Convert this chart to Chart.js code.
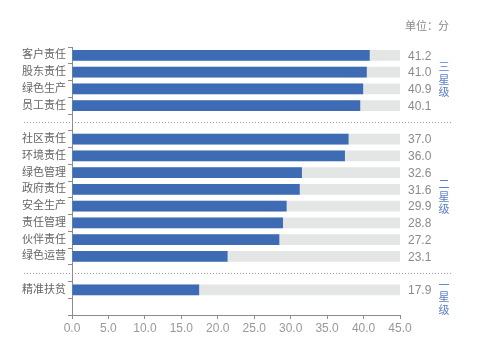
<!DOCTYPE html>
<html>
<head>
<meta charset="utf-8">
<script src="https://cdn.jsdelivr.net/npm/chart.js@4"></script>
<style>
  html, body { margin: 0; padding: 0; background: #fff; }
  #wrap { width: 503px; height: 346px; position: relative; }
</style>
</head>
<body>
<div id="wrap"><canvas id="rating-chart"></canvas></div>
<script>
// chart data (blank entries are the gaps between star groups)
const categories = ['客户责任', '股东责任', '绿色生产', '员工责任', '',
    '社区责任', '环境责任', '绿色管理', '政府责任', '安全生产', '责任管理', '伙伴责任', '绿色运营', '',
    '精准扶贫', ''];
const barValues = [40.8, 40.4, 39.9, 39.5, null,
    37.9, 37.4, 31.5, 31.2, 29.4, 28.9, 28.4, 21.3, null,
    17.4, null];
const trackValues = [45, 45, 45, 45, null,
    45, 45, 45, 45, 45, 45, 45, 45, null,
    45, null];
const scoreLabels = ['41.2', '41.0', '40.9', '40.1', '',
    '37.0', '36.0', '32.6', '31.6', '29.9', '28.8', '27.2', '23.1', '',
    '17.9', ''];
const xTicks = [0, 5, 10, 15, 20, 25, 30, 35, 40, 45];
const groupNames = ['三星级', '二星级', '一星级'];
const groupStart = [0, 5, 14];
const groupEnd = [3, 12, 15];
const separatorRows = [4, 13];
const unitLabel = '单位：分';

const fontFamily = "'Liberation Sans', 'Noto Sans CJK SC', sans-serif";
const barBlue = '#3d6bb4';
const trackGray = '#e4e5e5';
const axisGray = '#8c8c8c';
const groupBlue = '#5b80c6';

// draws value labels, dotted separators, star group labels and the unit
const extrasPlugin = {
    id: 'extras',
    afterDraw(chart) {
        const ctx = chart.ctx;
        const x = chart.scales.x;
        const y = chart.scales.y;
        ctx.save();

        // score labels to the right of the track
        ctx.font = '12px ' + fontFamily;
        ctx.fillStyle = '#8a8a8a';
        ctx.textAlign = 'left';
        ctx.textBaseline = 'middle';
        scoreLabels.forEach((s, i) => {
            if (s) ctx.fillText(s, x.getPixelForValue(45) + 8, y.getPixelForValue(i) + 1);
        });

        // dotted separators
        ctx.strokeStyle = '#9a9a9a';
        ctx.lineWidth = 1;
        ctx.setLineDash([1, 2]);
        separatorRows.forEach(r => {
            const py = Math.round(y.getPixelForValue(r)) + 0.5;
            ctx.beginPath();
            ctx.moveTo(24, py);
            ctx.lineTo(451, py);
            ctx.stroke();
        });
        ctx.setLineDash([]);

        // vertical star group labels
        ctx.font = '11px ' + fontFamily;
        ctx.fillStyle = groupBlue;
        ctx.textAlign = 'center';
        groupNames.forEach((name, g) => {
            const mid = (y.getPixelForValue(groupStart[g]) + y.getPixelForValue(groupEnd[g])) / 2;
            const step = 12.5;
            const top = mid - step * (name.length - 1) / 2;
            [...name].forEach((ch, k) => ctx.fillText(ch, 444, top + k * step));
        });

        // unit
        ctx.font = '11px ' + fontFamily;
        ctx.fillStyle = '#8a8a8a';
        ctx.textAlign = 'left';
        ctx.fillText(unitLabel, 405, 27);
        ctx.restore();
    }
};

const ctx = document.getElementById('rating-chart').getContext('2d');
new Chart(ctx, {
    type: 'bar',
    data: {
        labels: categories,
        datasets: [{
            label: '得分',
            data: barValues,
            backgroundColor: barBlue,
            barThickness: 10,
            grouped: false
        }, {
            label: '满分',
            data: trackValues,
            backgroundColor: trackGray,
            barThickness: 10,
            grouped: false
        }]
    },
    options: {
        indexAxis: 'y',
        responsive: true,
        maintainAspectRatio: false,
        animation: false,
        layout: { padding: { top: 47, right: 103, left: 0, bottom: 0 } },
        scales: {
            x: {
                min: 0,
                max: 45,
                afterBuildTicks: scale => { scale.ticks = xTicks.map(v => ({ value: v })); },
                afterFit: scale => { scale.height = 31; },
                grid: { display: true, drawOnChartArea: false, drawTicks: true, tickLength: 4, color: axisGray },
                border: { display: true, color: axisGray, width: 1 },
                ticks: {
                    color: '#999',
                    font: { family: fontFamily, size: 12 },
                    padding: 2,
                    maxRotation: 0,
                    callback: v => Number(v).toFixed(1)
                }
            },
            y: {
                afterFit: scale => { scale.width = 72; },
                grid: { drawOnChartArea: false, tickLength: 4, color: axisGray, offset: true },
                border: { display: true, color: axisGray, width: 1 },
                ticks: {
                    color: '#666',
                    font: { family: fontFamily, size: 11 },
                    padding: 2,
                    autoSkip: false
                }
            }
        },
        plugins: {
            legend: { display: false },
            tooltip: { enabled: false }
        }
    },
    plugins: [extrasPlugin]
});
</script>
</body>
</html>
